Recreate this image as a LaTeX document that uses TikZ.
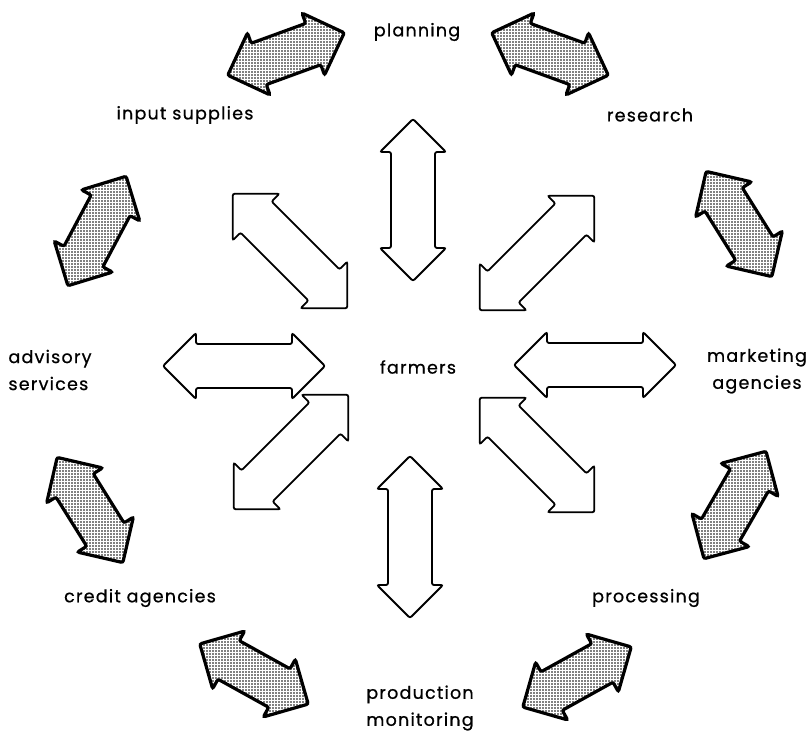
\documentclass[tikz,border=0pt]{standalone}
\usepackage{fontspec}
\setmainfont{Poppins}[LetterSpace=7, FakeBold=0.7]
\usetikzlibrary{patterns.meta}

% dense dot screen of the outer arrows
\tikzdeclarepattern{
    name=screen dots,
    type=uncolored,
    bounding box={(-1.5pt,-1.5pt) and (1.5pt,1.5pt)},
    tile size={(3pt,3pt)},
    code={\pgfpathcircle{\pgfpointorigin}{0.8pt}\pgfusepath{fill}}
}

\begin{document}
\begin{tikzpicture}[x=1pt, y=-1pt]
    \tikzset{
        % double block arrow, #1 = half length
        dbl arrow/.pic={
            \path[pic actions, rounded corners=2pt]
                ({-#1},0) -- ({-#1+33},-33) -- ({-#1+33},-22) -- ({#1-33},-22)
                -- ({#1-33},-33) -- ({#1},0) -- ({#1-33},33) -- ({#1-33},22)
                -- ({-#1+33},22) -- ({-#1+33},33) -- cycle;
        },
        open arrow/.style={draw=black, line width=1.8pt, fill=white},
        dotted arrow/.style={draw=black, line width=3.2pt, pattern=screen dots},
        label/.style={font=\fontsize{17.5}{27}\selectfont, align=center, inner sep=0pt},
    }
    \useasboundingbox (0,0) rectangle (811,738);

    % inner ring of arrows (x, y, angle)
    \foreach \x/\y/\a in {244/366/0, 595/365/0, 413/200/90, 410/537/90,
                          290/251/-45, 537/253/45, 291/452/45, 537/455/-45} {
        \pic[open arrow, rotate=\a] at (\x,\y) {dbl arrow=81};
    }

    % outer ring of shaded arrows
    \foreach \x/\y/\a in {286/54/20, 550/54/-20, 739/224/-58, 735/505/60,
                          577/677/29, 254/674/-29, 90/510/-58, 97/231/62} {
        \pic[dotted arrow, rotate=\a] at (\x,\y) {dbl arrow=62};
    }

    % labels
    \node[label] (farmers) at (418,367) {farmers};
    \node[label] (planning) at (417,32) {planning};
    \node[label] (input) at (185,115) {input supplies};
    \node[label] (research) at (650,115) {research};
    \node[label, align=left] (advisory) at (50,370) {advisory\\services};
    \node[label] (marketing) at (757,371) {marketing\\agencies};
    \node[label] (credit) at (140,598) {credit agencies};
    \node[label] (processing) at (646,598) {processing};
    \node[label] (production) at (420,708) {production\\monitoring};
\end{tikzpicture}
\end{document}
